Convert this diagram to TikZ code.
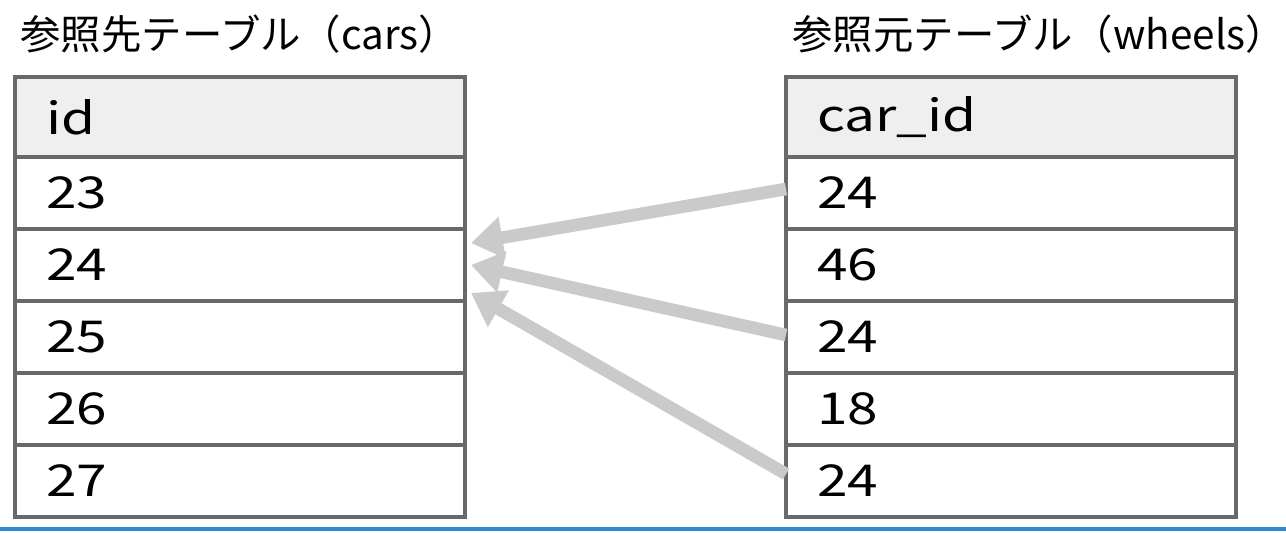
\documentclass[tikz,border=0pt]{standalone}
\usepackage{fontspec}
\setmainfont{Noto Sans CJK JP}
\newfontfamily\cellfont[FakeStretch=1.25]{Noto Sans CJK JP}
\usepackage{tikz}
\usetikzlibrary{positioning,arrows.meta}
\definecolor{tableline}{RGB}{105, 105, 105}
\definecolor{headgray}{RGB}{239, 239, 239}
\definecolor{arrowgray}{RGB}{202, 202, 202}
\definecolor{framblue}{RGB}{50, 137, 207}

\begin{document}
\begin{tikzpicture}[
    node distance=0pt,
    cell/.style={rectangle, draw=tableline, line width=2pt, outer sep=0pt, minimum width=9cm, minimum height=1.44cm, text width=7.76cm, inner xsep=0.62cm, inner ysep=0pt, align=left, font=\cellfont\fontsize{25}{30}\selectfont},
    head/.style={cell, fill=headgray, minimum height=1.6cm},
    title/.style={inner sep=0pt, anchor=base west, font=\fontsize{23}{28}\selectfont},
    ref/.style={draw=arrowgray, line width=7.2pt, -{Triangle[length=18pt, width=23pt]}}
]
\useasboundingbox (0,0) rectangle (25.72,-10.64);

% Referenced table
\node[head, anchor=north west] (cars_head) at (0.3,-1.54) {id};
\node[cell, below=of cars_head] (cars_1) {23};
\node[cell, below=of cars_1] (cars_2) {24};
\node[cell, below=of cars_2] (cars_3) {25};
\node[cell, below=of cars_3] (cars_4) {26};
\node[cell, below=of cars_4] (cars_5) {27};

% Referencing table
\node[head, right=6.42cm of cars_head] (wheels_head) {car\_id};
\node[cell, below=of wheels_head] (wheels_1) {24};
\node[cell, below=of wheels_1] (wheels_2) {46};
\node[cell, below=of wheels_2] (wheels_3) {24};
\node[cell, below=of wheels_3] (wheels_4) {18};
\node[cell, below=of wheels_4] (wheels_5) {24};

% Titles
\node[title] (cars_title) at ([xshift=0.1cm, yshift=0.56cm]cars_head.north west) {参照先テーブル（cars）};
\node[title] (wheels_title) at ([xshift=0.12cm, yshift=0.56cm]wheels_head.north west) {参照元テーブル（wheels）};

% Foreign keys
\draw[ref] ([yshift=0.08cm]wheels_1.west) -- ([xshift=0.12cm, yshift=0.44cm]cars_2.east);
\draw[ref] ([yshift=0.04cm]wheels_3.west) -- ([xshift=0.12cm]cars_2.east);
\draw[ref] ([yshift=0.14cm]wheels_5.west) -- ([xshift=0.12cm, yshift=-0.56cm]cars_2.east);

% Frame edge
\draw[framblue, line width=0.08cm] (0,-10.58) -- (25.72,-10.58);

\end{tikzpicture}
\end{document}
